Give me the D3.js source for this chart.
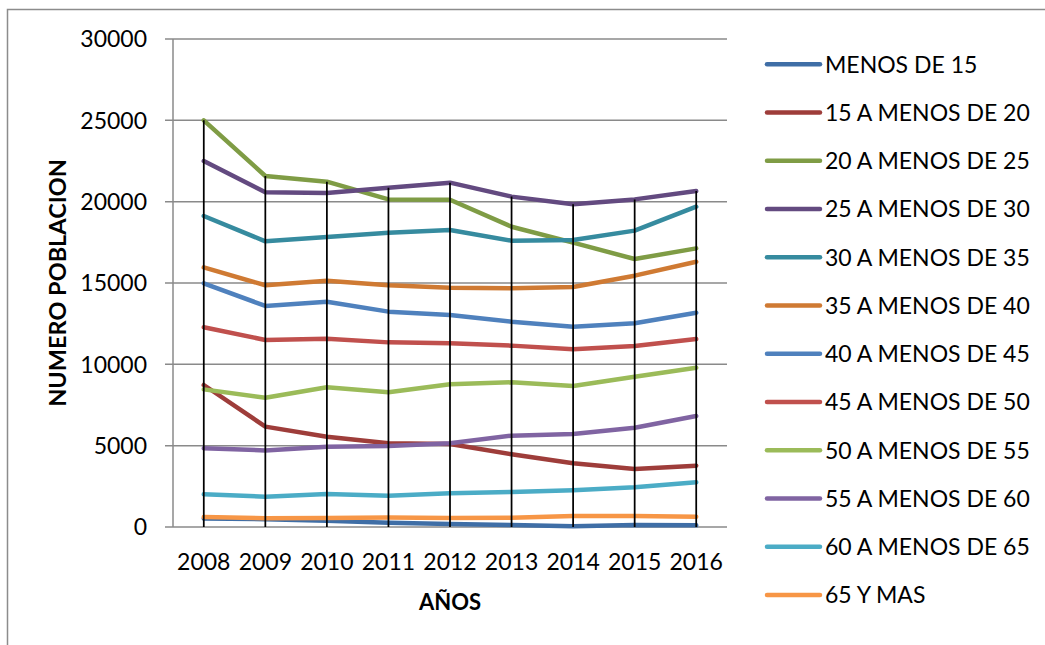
<!DOCTYPE html>
<html>
<head>
<meta charset="utf-8">
<script src="https://cdn.jsdelivr.net/npm/d3@7"></script>
<style>
  html, body { margin: 0; padding: 0; background: #fff; }
  svg { display: block; }
  text { font-family: Lato, "Open Sans", sans-serif; fill: #000; }
</style>
</head>
<body>
<svg id="chart" width="1045" height="645"></svg>
<script>
const years = [2008, 2009, 2010, 2011, 2012, 2013, 2014, 2015, 2016];
const yTicks = [0, 5000, 10000, 15000, 20000, 25000, 30000];
const seriesNames = ["MENOS DE 15", "15 A MENOS DE 20", "20 A MENOS DE 25", "25 A MENOS DE 30",
  "30 A MENOS DE 35", "35 A MENOS DE 40", "40 A MENOS DE 45", "45 A MENOS DE 50",
  "50 A MENOS DE 55", "55 A MENOS DE 60", "60 A MENOS DE 65", "65 Y MAS"];
const seriesColors = ["#3f6ea6", "#9e3d3a", "#7f9c45", "#634a80", "#368b9f", "#cf7a33",
  "#4f81bd", "#c0504d", "#9bbb59", "#8064a2", "#4bacc6", "#f79646"];

const menos15   = [530, 480, 390, 265, 185, 125, 40, 125, 100];
const de15a20   = [8730, 6170, 5550, 5145, 5100, 4470, 3915, 3565, 3770];
const de20a25   = [25000, 21580, 21230, 20140, 20120, 18460, 17480, 16475, 17130];
const de25a30   = [22500, 20575, 20530, 20860, 21170, 20310, 19840, 20140, 20655];
const de30a35   = [19120, 17560, 17830, 18090, 18260, 17600, 17640, 18220, 19690];
const de35a40   = [15960, 14860, 15140, 14860, 14710, 14670, 14750, 15450, 16310];
const de40a45   = [14980, 13590, 13850, 13240, 13030, 12620, 12310, 12520, 13175];
const de45a50   = [12280, 11500, 11580, 11350, 11290, 11150, 10920, 11130, 11560];
const de50a55   = [8460, 7950, 8590, 8280, 8770, 8895, 8670, 9240, 9795];
const de55a60   = [4835, 4710, 4940, 4980, 5145, 5615, 5720, 6105, 6825];
const de60a65   = [2010, 1865, 2030, 1925, 2070, 2150, 2255, 2440, 2750];
const mas65     = [615, 540, 550, 585, 560, 575, 675, 675, 635];

const seriesValues = [menos15, de15a20, de20a25, de25a30, de30a35, de35a40,
  de40a45, de45a50, de50a55, de55a60, de60a65, mas65];

const svg = d3.select("#chart");

// outer frame (left and top edges visible)
svg.append("path")
  .attr("d", "M7.5,645 L7.5,9.5 L1045,9.5")
  .attr("fill", "none").attr("stroke", "#8c8c8c").attr("stroke-width", 1.5);

const plot = { left: 173, right: 727, top: 39, bottom: 527 };

const x = d3.scalePoint().domain(years).range([plot.left, plot.right]).padding(0.5);
const y = d3.scaleLinear().domain([0, 30000]).range([plot.bottom, plot.top]);

// gridlines
svg.append("g").selectAll("line").data(yTicks).join("line")
  .attr("x1", plot.left - 8).attr("x2", plot.right)
  .attr("y1", d => y(d)).attr("y2", d => y(d))
  .attr("stroke", "#8a8a8a").attr("stroke-width", 1.5);

// y axis line
svg.append("line")
  .attr("x1", plot.left).attr("x2", plot.left)
  .attr("y1", plot.top).attr("y2", plot.bottom)
  .attr("stroke", "#8a8a8a").attr("stroke-width", 1.5);

// y tick labels
svg.append("g").selectAll("text").data(yTicks).join("text")
  .attr("x", 147).attr("y", d => y(d))
  .attr("dy", "0.36em")
  .attr("text-anchor", "end")
  .attr("font-size", 23)
  .text(d => d);

// x tick labels
svg.append("g").selectAll("text").data(years).join("text")
  .attr("x", d => x(d)).attr("y", 570)
  .attr("text-anchor", "middle")
  .attr("font-size", 23)
  .text(d => d);

// axis titles
svg.append("text")
  .attr("x", (plot.left + plot.right) / 2).attr("y", 610)
  .attr("text-anchor", "middle").attr("font-size", 22).attr("font-weight", "bold")
  .text("AÑOS");

svg.append("text")
  .attr("transform", `translate(66,${(plot.top + plot.bottom) / 2}) rotate(-90)`)
  .attr("text-anchor", "middle").attr("font-size", 23.5).attr("font-weight", "bold")
  .text("NUMERO POBLACION");

// series lines
const line = d3.line().x((d, i) => x(years[i])).y(d => y(d));
svg.append("g").selectAll("path").data(seriesValues).join("path")
  .attr("d", d => line(d))
  .attr("fill", "none")
  .attr("stroke", (d, i) => seriesColors[i])
  .attr("stroke-width", 4.5)
  .attr("stroke-linejoin", "round")
  .attr("stroke-linecap", "round");

// drop lines (from max to axis)
svg.append("g").selectAll("line").data(years).join("line")
  .attr("x1", d => x(d)).attr("x2", d => x(d))
  .attr("y1", (d, i) => y(d3.max(seriesValues, s => s[i])))
  .attr("y2", plot.bottom)
  .attr("stroke", "#000").attr("stroke-width", 1.75);

// legend
const legend = svg.append("g");
const lg = legend.selectAll("g").data(seriesNames).join("g")
  .attr("transform", (d, i) => `translate(0,${64.3 + i * 48.25})`);
lg.append("line")
  .attr("x1", 767).attr("x2", 820).attr("y1", 0).attr("y2", 0)
  .attr("stroke", (d, i) => seriesColors[i])
  .attr("stroke-width", 4.5).attr("stroke-linecap", "round");
lg.append("text")
  .attr("x", 825).attr("y", 0).attr("dy", "0.36em")
  .attr("font-size", 23)
  .text(d => d);
</script>
</body>
</html>
